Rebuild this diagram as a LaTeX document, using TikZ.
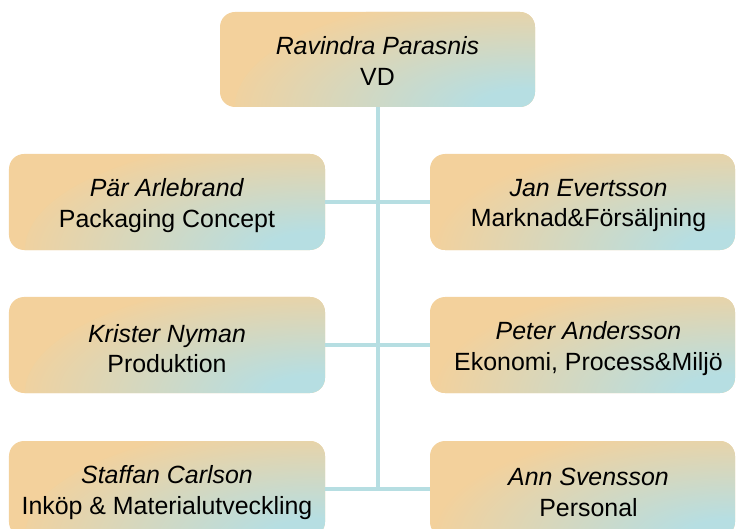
\documentclass[tikz,border=0pt]{standalone}
\usepackage{fontspec}
\setmainfont{Liberation Sans}
\definecolor{corange}{RGB}{243,209,156}
\definecolor{cblue}{RGB}{182,222,226}
% soft glow from the lower right corner of every box
\pgfdeclareradialshading{boxglow}{\pgfpoint{0bp}{0bp}}{%
  color(0bp)=(cblue); color(4bp)=(cblue); color(25bp)=(corange); color(50bp)=(corange)}
\tikzset{
  orgbox/.style={draw=none, fill=corange, rounded corners=15bp, inner sep=0pt,
    minimum width=316bp, minimum height=96bp,
    path picture={\shade[shading=boxglow]
      (path picture bounding box.south east) ellipse [x radius=300bp, y radius=115bp];}},
  orgtext/.style={align=center, inner sep=0pt,
    font=\fontsize{25}{30.5}\selectfont},
  link/.style={draw=cblue, line width=3.6bp}
}
\begin{document}
\begin{tikzpicture}[x=1bp, y=-1bp]
\useasboundingbox (0,0) rectangle (736,529);

\coordinate (trunk) at (378,489);

% top
\node[orgbox, minimum width=315bp, minimum height=95bp] (vd) at (377.5,59.5) {};
\node[orgtext] (vd-t) at ([yshift=-1.5bp]vd.center) {\textit{Ravindra Parasnis}\\VD};

% left column
\node[orgbox] (par) at (167,202) {};
\node[orgtext] (par-t) at ([yshift=-3.5bp]par.center) {\textit{Pär Arlebrand}\\Packaging Concept};
\node[orgbox] (kri) at (167,345) {};
\node[orgtext] (kri-t) at ([yshift=-3.5bp]kri.center) {\textit{Krister Nyman}\\Produktion};
\node[orgbox] (sta) at (167,489) {};
\node[orgtext] (sta-t) at ([yshift=-3.5bp]sta.center) {\textit{Staffan Carlson}\\Inköp \& Materialutveckling};

% right column
\node[orgbox, minimum width=305bp] (jan) at (582.5,202) {};
\node[orgtext] (jan-t) at ([xshift=6bp,yshift=-3.5bp]jan.center) {\textit{Jan Evertsson}\\Marknad\&Försäljning};
\node[orgbox, minimum width=305bp] (pet) at (582.5,345) {};
\node[orgtext] (pet-t) at ([xshift=6bp,yshift=-3.5bp]pet.center) {\textit{Peter Andersson}\\Ekonomi, Process\&Miljö};
\node[orgbox, minimum width=305bp] (ann) at (582.5,489) {};
\node[orgtext] (ann-t) at ([xshift=6bp,yshift=-3.5bp]ann.center) {\textit{Ann Svensson}\\Personal};

% trunk and branches
\draw[link] (vd.south -| trunk) -- (trunk);
\draw[link] (par.east) -- (jan.west);
\draw[link] (kri.east) -- (pet.west);
\draw[link] (sta.east) -- (ann.west);
\end{tikzpicture}
\end{document}
